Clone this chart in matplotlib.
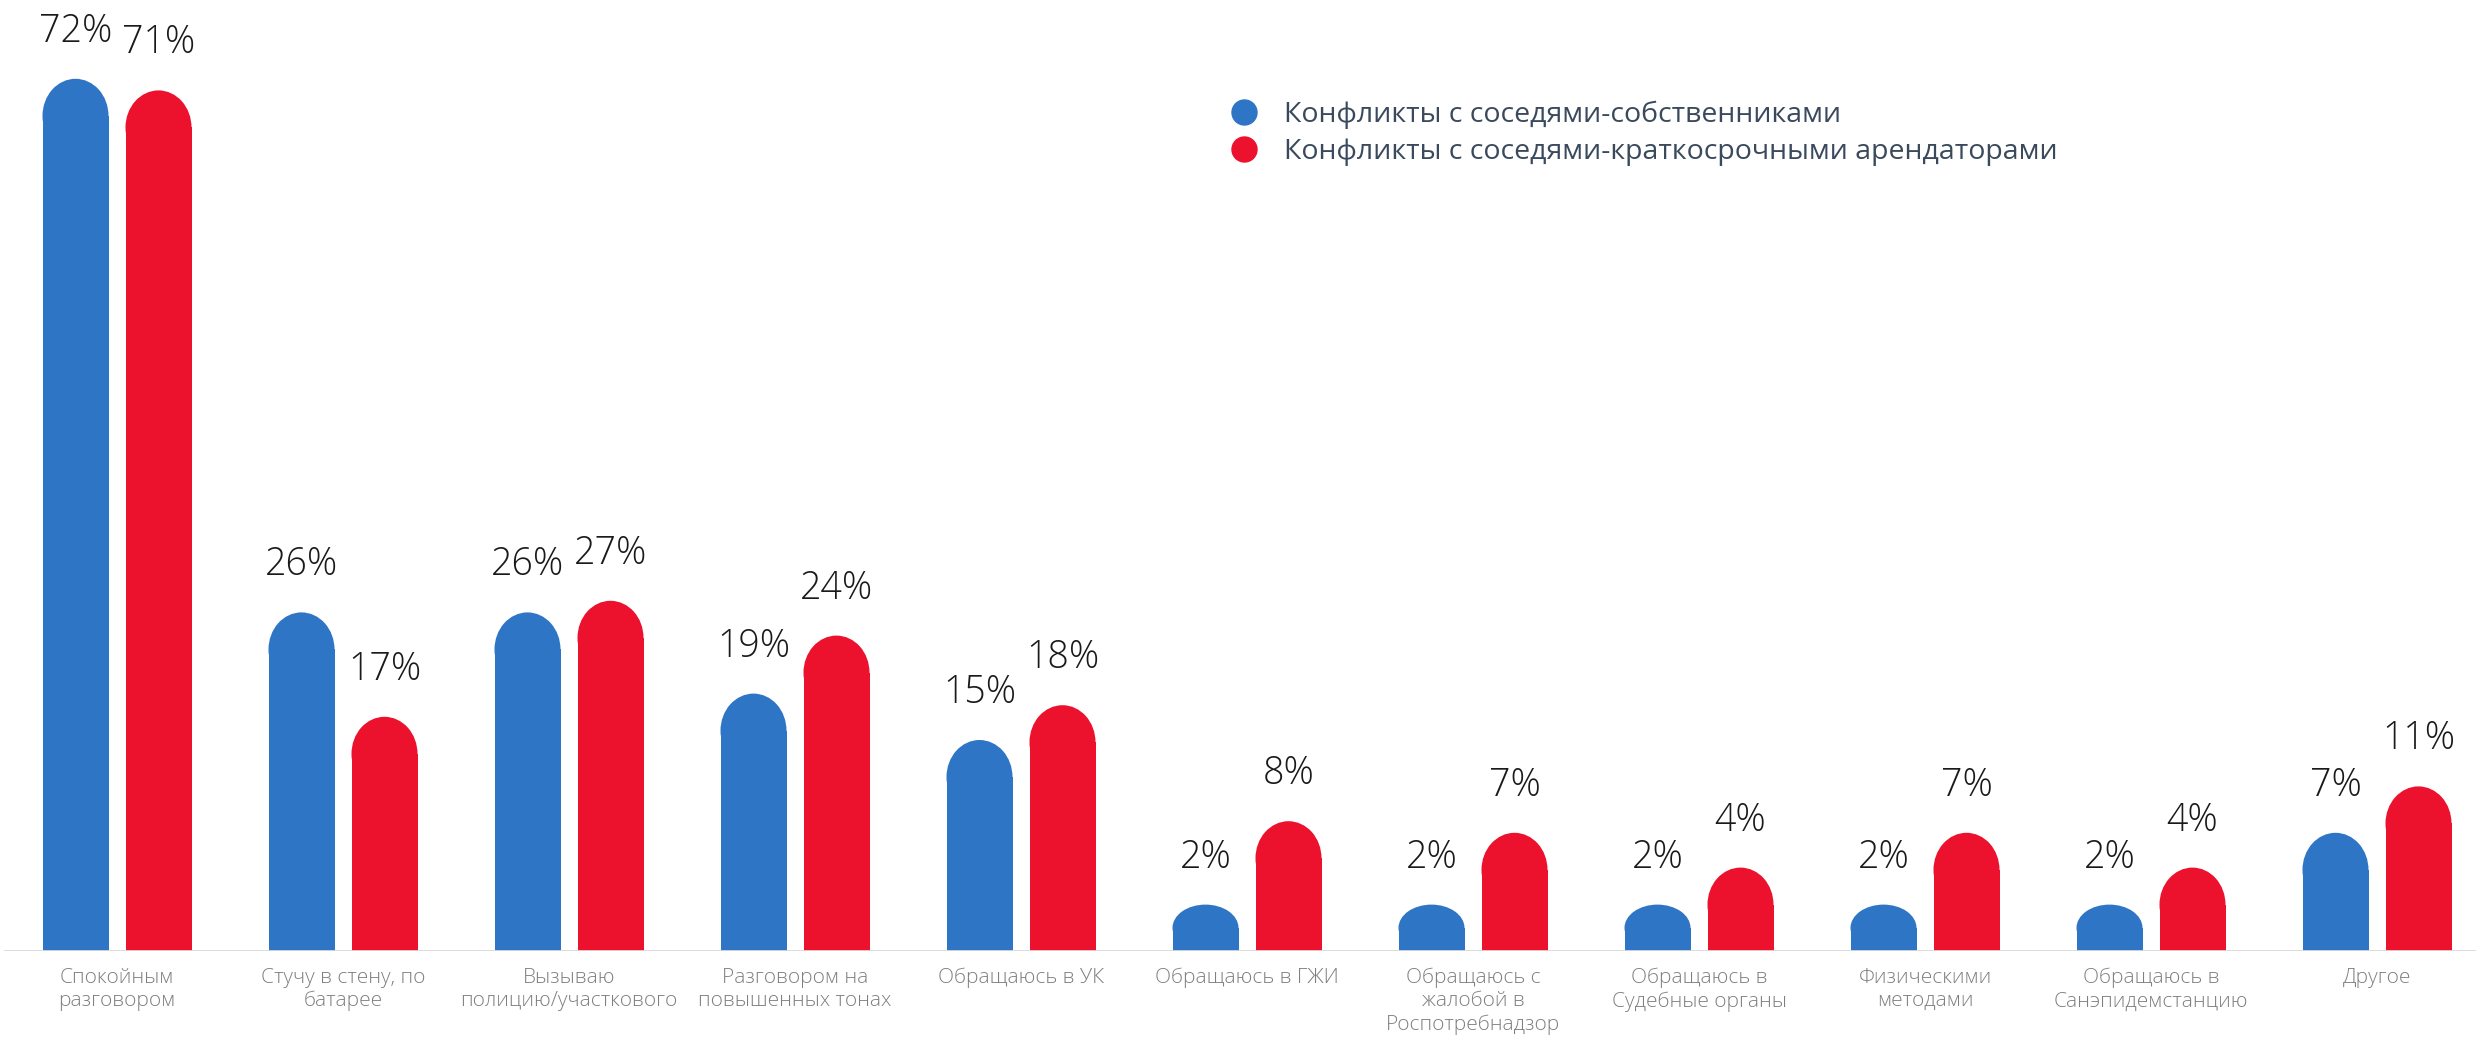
import numpy as np
import matplotlib
matplotlib.use("Agg")
import matplotlib.pyplot as plt
from matplotlib.patches import Ellipse
from matplotlib.lines import Line2D

plt.rcParams['font.family'] = ['Open Sans', 'DejaVu Sans']

categories = ["Спокойным\nразговором", "Стучу в стену, по\nбатарее",
              "Вызываю\nполицию/участкового", "Разговором на\nповышенных тонах",
              "Обращаюсь в УК", "Обращаюсь в ГЖИ",
              "Обращаюсь с\nжалобой в\nРоспотребнадзор", "Обращаюсь в\nСудебные органы",
              "Физическими\nметодами", "Обращаюсь в\nСанэпидемстанцию", "Другое"]
owners = [72, 26, 26, 19, 15, 2, 2, 2, 2, 2, 7]
renters = [71, 17, 27, 24, 18, 8, 7, 4, 7, 4, 11]
series_names = ["Конфликты с соседями-собственниками",
                "Конфликты с соседями-краткосрочными арендаторами"]

BLUE = "#2E75C5"
RED = "#EC112C"

W, H = 2476, 1039
base_px = 951          # baseline position from top
k = 11.6               # px per percent
gx, x0 = 226, 117      # group spacing / first group centre (px)
cap_max = 37           # rounded top height (px)

fig = plt.figure(figsize=(W / 100, H / 100), dpi=100)
ax = fig.add_axes([0, (H - base_px) / H, 1, base_px / H])
ax.set_ylim(0, base_px / k)
ax.set_xlim(-x0 / gx, (W - x0) / gx)
ax.axis('off')

x = np.arange(len(categories))
w = 66 / gx
d = 41.5 / gx

for vals, off, col in [(owners, -d, BLUE), (renters, d, RED)]:
    bars = ax.bar(x + off, vals, width=w, color=col, linewidth=0)
    for b, v in zip(bars, vals):
        xc = b.get_x() + b.get_width() / 2
        cap = min(cap_max, v * k)
        ax.add_patch(Ellipse((xc, v), w, 2 * cap / k, color=col, linewidth=0))
        ax.annotate(f"{v}%", (xc, v), xytext=(0, cap + 37), textcoords='offset pixels',
                    ha='center', va='baseline', fontsize=27, color='#1a1a1a',
                    fontweight='light')

ax.axhline(0, color='#d9d9d9', lw=2, xmin=0.002, xmax=1)

for i, lab in enumerate(categories):
    ax.annotate(lab, (i, 0), xytext=(0, -17), textcoords='offset pixels',
                ha='center', va='top', fontsize=15, color='#7f7f7f',
                fontweight='light', linespacing=1.2)

handles = [Line2D([], [], marker='o', ls='', markersize=18, color=c) for c in (BLUE, RED)]
fig.legend(handles, series_names, loc='upper left', bbox_to_anchor=(1231 / W, 1 - 101 / H),
           frameon=False, fontsize=20.5, labelcolor='#3a4a5c', handlelength=0.9,
           handletextpad=0.95, labelspacing=0.3, borderpad=0, borderaxespad=0)

fig.savefig("out.png", dpi=100)
